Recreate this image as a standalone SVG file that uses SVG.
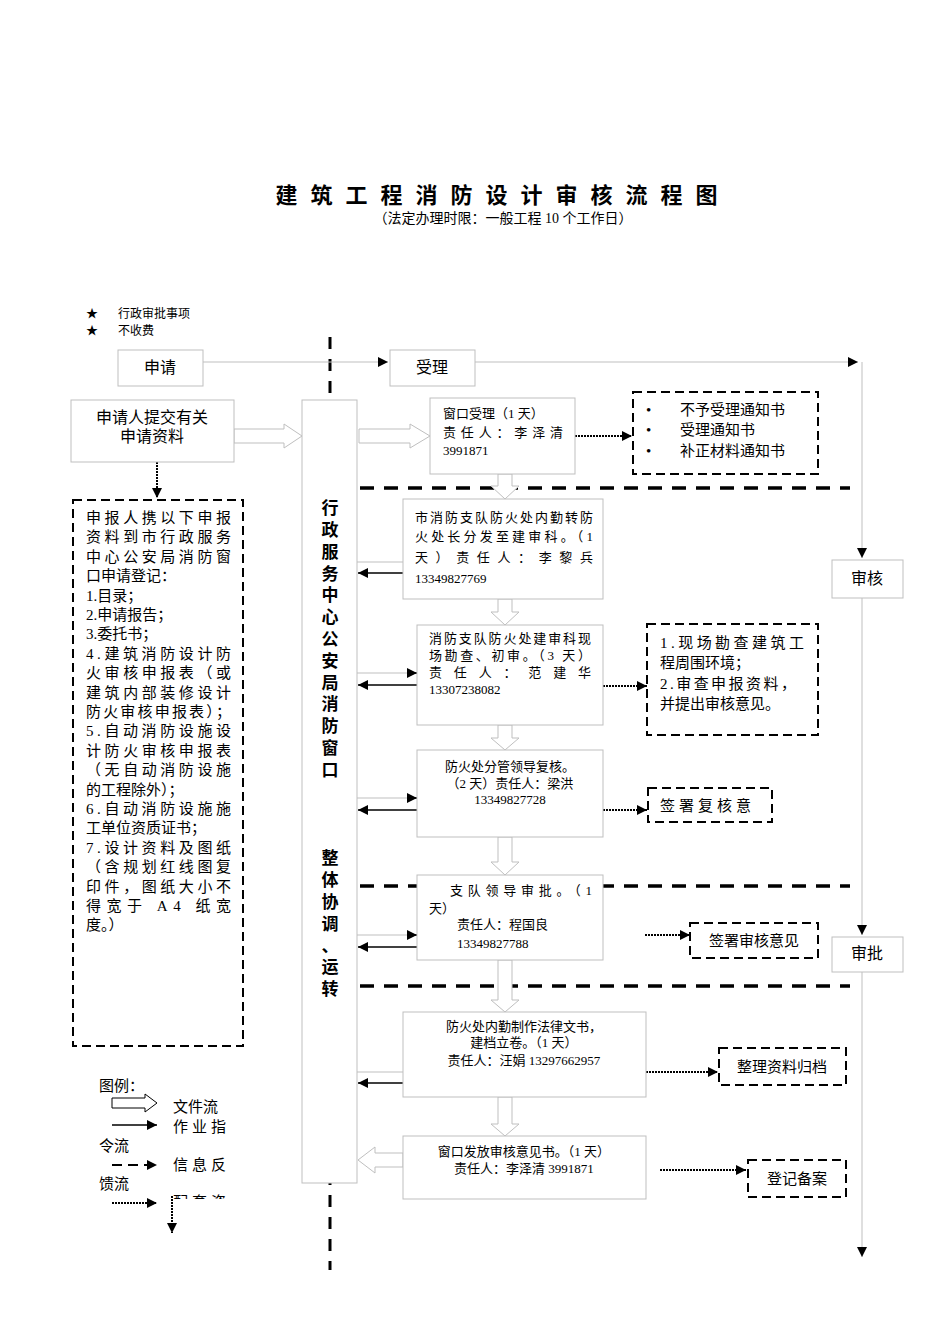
<svg xmlns="http://www.w3.org/2000/svg" width="950" height="1344" viewBox="0 0 950 1344">
<style>
text{font-family:"Liberation Serif","Noto Sans CJK SC",serif;fill:#000}
.box{fill:#fff;stroke:#bfbfbf;stroke-width:1}
.dbox{fill:#fff;stroke:#000;stroke-width:2;stroke-dasharray:9,5}
.hol{fill:#fff;stroke:#bfbfbf;stroke-width:1}
.thin{stroke:#bfbfbf;stroke-width:1;fill:none}
.blk{stroke:#000;stroke-width:1.5;fill:none}
.dot{stroke:#000;stroke-width:2;stroke-dasharray:2,1;fill:none}
.heavy{stroke:#000;stroke-width:3.5;stroke-dasharray:14,10;fill:none}
.t13{font-size:13px}.t15{font-size:15px}.t16{font-size:16px}
</style>
<defs>
<marker id="ah" viewBox="0 0 10 10" refX="10" refY="5" markerWidth="10" markerHeight="10" markerUnits="userSpaceOnUse" orient="auto"><path d="M0,0L10,5L0,10z" fill="#000"/></marker>
<clipPath id="lg"><rect x="160" y="1150" width="100" height="49"/></clipPath>
</defs>
<rect width="950" height="1344" fill="#fff"/>
<text x="503" y="203" text-anchor="middle" font-size="22" font-weight="bold" letter-spacing="13">建筑工程消防设计审核流程图</text>
<text x="503" y="223" text-anchor="middle" font-size="14">（法定办理时限：一般工程 10 个工作日）</text>
<text x="86" y="318" font-size="12">★</text><text x="118" y="318" font-size="12">行政审批事项</text>
<text x="86" y="335" font-size="12">★</text><text x="118" y="335" font-size="12">不收费</text>

<g id="divider"><line x1="330" y1="337" x2="330" y2="1270" stroke="#000" stroke-width="3" stroke-dasharray="12,10"/></g>
<g id="heavylines">
<line class="heavy" x1="360" y1="488" x2="850" y2="488"/>
<line class="heavy" x1="360" y1="886" x2="850" y2="886"/>
<line class="heavy" x1="360" y1="986" x2="850" y2="986"/>
</g>

<g id="connectors">
<polyline class="thin" points="203,362 388,362" marker-end="url(#ah)"/>
<polyline class="thin" points="475,362 858,362" marker-end="url(#ah)"/>
<line class="thin" x1="862" y1="362" x2="862" y2="558" marker-end="url(#ah)"/>
<line class="thin" x1="862" y1="598" x2="862" y2="935" marker-end="url(#ah)"/>
<line class="thin" x1="862" y1="972" x2="862" y2="1257" marker-end="url(#ah)"/>
<polygon class="hol" points="234,429 284,429 284,424 302,436 284,448 284,443 234,443"/>
<polygon class="hol" points="359,429 410,429 410,424 430,436 410,448 410,443 359,443"/>
<line class="dot" x1="157" y1="462" x2="157" y2="498" marker-end="url(#ah)"/>
<line class="dot" x1="575" y1="436" x2="632" y2="436" marker-end="url(#ah)"/>
<polygon class="hol" points="498,474 512,474 512,486 519,486 505,499 491,486 498,486"/>
<line class="thin" x1="357" y1="562" x2="415" y2="562"/><line class="blk" x1="405" y1="562" x2="415" y2="562" marker-end="url(#ah)"/>
<line class="blk" x1="415" y1="573" x2="358" y2="573" marker-end="url(#ah)"/>
<polygon class="hol" points="498,599 512,599 512,612 519,612 505,625 491,612 498,612"/>
<line class="thin" x1="357" y1="673" x2="417" y2="673"/><line class="blk" x1="407" y1="673" x2="417" y2="673" marker-end="url(#ah)"/>
<line class="blk" x1="417" y1="685" x2="358" y2="685" marker-end="url(#ah)"/>
<line class="dot" x1="603" y1="686" x2="647" y2="686" marker-end="url(#ah)"/>
<polygon class="hol" points="498,725 512,725 512,738 519,738 505,750 491,738 498,738"/>
<line class="thin" x1="357" y1="798" x2="417" y2="798"/><line class="blk" x1="407" y1="798" x2="417" y2="798" marker-end="url(#ah)"/>
<line class="blk" x1="417" y1="810" x2="358" y2="810" marker-end="url(#ah)"/>
<line class="dot" x1="603" y1="810" x2="647" y2="810" marker-end="url(#ah)"/>
<polygon class="hol" points="498,837 512,837 512,862 519,862 505,875 491,862 498,862"/>
<line class="thin" x1="357" y1="935" x2="417" y2="935"/><line class="blk" x1="407" y1="935" x2="417" y2="935" marker-end="url(#ah)"/>
<line class="blk" x1="417" y1="947" x2="358" y2="947" marker-end="url(#ah)"/>
<line class="dot" x1="645" y1="935" x2="690" y2="935" marker-end="url(#ah)"/>
<polygon class="hol" points="498,960 512,960 512,1000 519,1000 505,1012 491,1000 498,1000"/>
<line class="thin" x1="357" y1="1072" x2="403" y2="1072"/>
<line class="blk" x1="403" y1="1083" x2="358" y2="1083" marker-end="url(#ah)"/>
<line class="dot" x1="646" y1="1072" x2="718" y2="1072" marker-end="url(#ah)"/>
<polygon class="hol" points="498,1097 512,1097 512,1124 519,1124 505,1136 491,1124 498,1124"/>
<polygon class="hol" points="403,1153 375,1153 375,1147 358,1160 375,1173 375,1167 403,1167"/>
<line class="dot" x1="660" y1="1170" x2="746" y2="1170" marker-end="url(#ah)"/>
</g>

<g id="n-apply"><rect class="box" x="118" y="350" width="85" height="36"/><text class="t16" x="160" y="373" text-anchor="middle">申请</text></g>
<g id="n-accept"><rect class="box" x="390" y="350" width="85" height="36"/><text class="t16" x="432" y="373" text-anchor="middle">受理</text></g>
<g id="n-review"><rect class="box" x="832" y="560" width="71" height="38"/><text class="t16" x="867" y="584" text-anchor="middle">审核</text></g>
<g id="n-approve"><rect class="box" x="832" y="937" width="71" height="35"/><text class="t16" x="867" y="959" text-anchor="middle">审批</text></g>

<g id="n-column"><rect class="box" x="302" y="400" width="55" height="783"/>
<g font-size="17" font-weight="bold" text-anchor="middle">
<text x="330" y="514">行</text><text x="330" y="536">政</text><text x="330" y="558">服</text><text x="330" y="580">务</text><text x="330" y="601">中</text><text x="330" y="623">心</text><text x="330" y="645">公</text><text x="330" y="667">安</text><text x="330" y="689">局</text><text x="330" y="710">消</text><text x="330" y="732">防</text><text x="330" y="754">窗</text><text x="330" y="776">口</text>
<text x="330" y="864">整</text><text x="330" y="886">体</text><text x="330" y="908">协</text><text x="330" y="930">调</text><text x="330" y="952">、</text><text x="330" y="973">运</text><text x="330" y="995">转</text>
</g></g>

<g id="n-submit"><rect class="box" x="71" y="400" width="163" height="62"/><text class="t16" x="152" y="423" text-anchor="middle">申请人提交有关</text><text class="t16" x="152" y="442" text-anchor="middle">申请资料</text></g>

<g id="n-materials"><rect class="dbox" x="73" y="500" width="170" height="546"/>
<g class="t15" lengthAdjust="spacing">
<text x="86" y="523" textLength="145">申报人携以下申报</text>
<text x="86" y="542" textLength="145">资料到市行政服务</text>
<text x="86" y="562" textLength="145">中心公安局消防窗</text>
<text x="86" y="581">口申请登记：</text>
<text x="86" y="601">1.目录；</text>
<text x="86" y="620">2.申请报告；</text>
<text x="86" y="639">3.委托书；</text>
<text x="86" y="659" textLength="145">4.建筑消防设计防</text>
<text x="86" y="678" textLength="145">火审核申报表（或</text>
<text x="86" y="698" textLength="145">建筑内部装修设计</text>
<text x="86" y="717" textLength="145">防火审核申报表）；</text>
<text x="86" y="736" textLength="145">5.自动消防设施设</text>
<text x="86" y="756" textLength="145">计防火审核申报表</text>
<text x="86" y="775" textLength="145">（无自动消防设施</text>
<text x="86" y="795">的工程除外）；</text>
<text x="86" y="814" textLength="145">6.自动消防设施施</text>
<text x="86" y="833">工单位资质证书；</text>
<text x="86" y="853" textLength="145">7.设计资料及图纸</text>
<text x="86" y="872" textLength="145">（含规划红线图复</text>
<text x="86" y="892" textLength="145">印件，图纸大小不</text>
<text x="86" y="911" textLength="145">得宽于 A4 纸宽</text>
<text x="86" y="930">度。）</text>
</g></g>

<g id="n-window"><rect class="box" x="430" y="398" width="145" height="76"/>
<text class="t13" x="443" y="418">窗口受理（1 天）</text>
<text class="t13" x="443" y="437" textLength="120" lengthAdjust="spacing">责任人：李泽清</text>
<text class="t13" x="443" y="455">3991871</text></g>
<g id="n-notices"><rect class="dbox" x="633" y="392" width="185" height="82"/>
<g class="t15"><text x="646" y="415">•</text><text x="680" y="415">不予受理通知书</text>
<text x="646" y="435">•</text><text x="680" y="435">受理通知书</text>
<text x="646" y="456">•</text><text x="680" y="456">补正材料通知书</text></g></g>

<g id="n-dispatch"><rect class="box" x="403" y="499" width="200" height="100"/>
<g class="t13" lengthAdjust="spacing">
<text x="415" y="522" textLength="178">市消防支队防火处内勤转防</text>
<text x="415" y="541" textLength="178">火处长分发至建审科。（1</text>
<text x="415" y="562" textLength="178">天）责任人：李黎兵</text>
<text x="415" y="583">13349827769</text></g></g>

<g id="n-survey"><rect class="box" x="417" y="625" width="186" height="100"/>
<g class="t13" lengthAdjust="spacing">
<text x="429" y="643" textLength="162">消防支队防火处建审科现</text>
<text x="429" y="660" textLength="162">场勘查、初审。（3 天）</text>
<text x="429" y="677" textLength="162">责任人：范建华</text>
<text x="429" y="694">13307238082</text></g></g>
<g id="n-survey-note"><rect class="dbox" x="647" y="624" width="171" height="111"/>
<g class="t15" lengthAdjust="spacing">
<text x="660" y="648" textLength="144">1.现场勘查建筑工</text>
<text x="660" y="668">程周围环境；</text>
<text x="660" y="689" textLength="136">2.审查申报资料，</text>
<text x="660" y="709">并提出审核意见。</text></g></g>

<g id="n-recheck"><rect class="box" x="417" y="750" width="186" height="87"/>
<g class="t13" text-anchor="middle"><text x="510" y="771">防火处分管领导复核。</text><text x="510" y="788">（2 天）责任人：梁洪</text><text x="510" y="804">13349827728</text></g></g>
<g id="n-recheck-note"><rect class="dbox" x="648" y="788" width="124" height="34"/><text class="t15" x="660" y="811" letter-spacing="4">签署复核意</text></g>

<g id="n-leader"><rect class="box" x="417" y="875" width="186" height="85"/>
<g class="t13" lengthAdjust="spacing">
<text x="450" y="895" textLength="142">支队领导审批。（1</text>
<text x="429" y="913">天）</text>
<text x="457" y="929">责任人：程国良</text>
<text x="457" y="948">13349827788</text></g></g>
<g id="n-leader-note"><rect class="dbox" x="690" y="923" width="128" height="35"/><text class="t15" x="754" y="946" text-anchor="middle">签署审核意见</text></g>

<g id="n-legal"><rect class="box" x="403" y="1012" width="243" height="85"/>
<g class="t13" text-anchor="middle"><text x="524" y="1031">防火处内勤制作法律文书，</text><text x="524" y="1047">建档立卷。（1 天）</text><text x="524" y="1065">责任人：汪娟  13297662957</text></g></g>
<g id="n-archive"><rect class="dbox" x="719" y="1048" width="127" height="37"/><text class="t15" x="782" y="1072" text-anchor="middle">整理资料归档</text></g>

<g id="n-issue"><rect class="box" x="403" y="1136" width="243" height="63"/>
<g class="t13" text-anchor="middle"><text x="524" y="1156">窗口发放审核意见书。（1 天）</text><text x="524" y="1173">责任人：李泽清 3991871</text></g></g>
<g id="n-record"><rect class="dbox" x="748" y="1160" width="98" height="37"/><text class="t15" x="797" y="1184" text-anchor="middle">登记备案</text></g>

<g id="legend">
<text class="t15" x="99" y="1091">图例：</text>
<polygon fill="#fff" stroke="#000" stroke-width="1" points="112,1098 145,1098 145,1094 157,1103 145,1112 145,1108 112,1108"/>
<text class="t15" x="173" y="1112">文件流</text>
<line class="blk" x1="112" y1="1125" x2="157" y2="1125" marker-end="url(#ah)"/>
<text class="t15" x="173" y="1132" letter-spacing="4">作业指</text>
<text class="t15" x="99" y="1151">令流</text>
<line x1="112" y1="1165" x2="157" y2="1165" stroke="#000" stroke-width="2" stroke-dasharray="10,6" marker-end="url(#ah)"/>
<text class="t15" x="173" y="1170" letter-spacing="4">信息反</text>
<text class="t15" x="99" y="1189">馈流</text>
<line class="dot" x1="112" y1="1203" x2="157" y2="1203" marker-end="url(#ah)"/>
<text class="t15" x="173" y="1207" letter-spacing="4" clip-path="url(#lg)">配套资</text>
<line class="dot" x1="172" y1="1196" x2="172" y2="1233" marker-end="url(#ah)"/>
</g>
</svg>
